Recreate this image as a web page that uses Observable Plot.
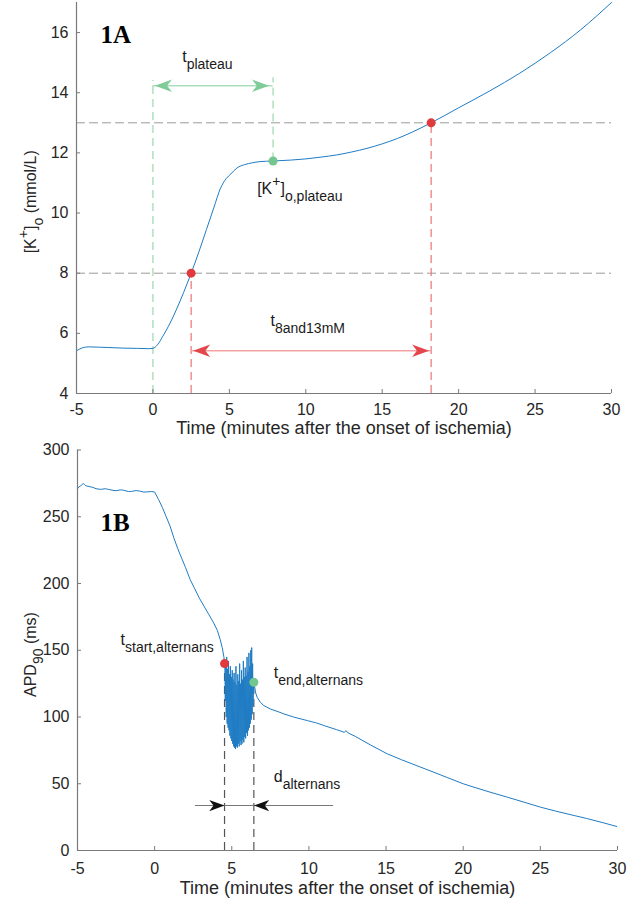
<!DOCTYPE html>
<html><head><meta charset="utf-8">
<script src="https://cdn.jsdelivr.net/npm/d3@7"></script>
<script src="https://cdn.jsdelivr.net/npm/@observablehq/plot@0.6"></script>
<style>
html,body{margin:0;padding:0;background:#fff;}
#chart svg{display:block;}
#chart svg:last-child{overflow:visible;}
</style></head><body><div id="chart"></div>
<script>
// ---------- Panel 1A data ----------
const kTime = [-5,-4.6,-4.2,-3.5,-3,-2,-1,-0.3,0,0.3,0.7,1,1.5,2,2.5,3,3.5,4,4.4,4.8,5.1,5.5,6,6.5,7,7.86,9,10,11,12,13,14,15,16,17,18.2,20,22,24,26,28,30];
const kConc = [5.42,5.52,5.55,5.54,5.53,5.51,5.5,5.49,5.5,5.62,5.95,6.22,6.75,7.35,8.0,8.7,9.45,10.2,10.8,11.15,11.3,11.5,11.61,11.67,11.71,11.73,11.76,11.8,11.86,11.93,12.03,12.15,12.3,12.48,12.7,13.0,13.5,14.05,14.65,15.33,16.1,17.0];
const kThresholds = [8, 13];
const tThreshold = [2.5, 18.2];
const tPlateau = 7.86, kPlateau = 11.73;
const tOnset = 0;
const plateauArrowK = 14.23, thresholdArrowK = 5.42;
const aXTicks = [-5,0,5,10,15,20,25,30];
const aYTicks = [4,6,8,10,12,14,16];

// ---------- Panel 1B data ----------
const apdTimePre = [-5,-4.9,-4.8,-4.63,-4.5,-4.4,-4.2,-4,-3.8,-3.5,-3.2,-3,-2.7,-2.5,-2.2,-2,-1.7,-1.5,-1.2,-1,-0.7,-0.5,-0.2,0,0.25,0.5,0.75,1,1.25,1.5,1.75,2,2.3,2.6,2.9,3.2,3.5,3.8,4.06,4.25,4.38,4.49,4.53];
const apdValPre = [271,272.5,273,275,273.5,273,272.5,272,271,270.5,271,270.5,269.8,269.5,270.2,269.8,268.9,269,269.6,269.3,268.5,268.6,268.9,268.5,263,257,250,243,234,226,219,212,203,196,189,183,177,171,165,158,152,145,140];
const apdTimeAlt = [4.55,4.58,4.61,4.64,4.67,4.70,4.73,4.76,4.79,4.82,4.85,4.88,4.91,4.94,4.97,5.00,5.03,5.06,5.09,5.12,5.15,5.18,5.21,5.24,5.27,5.30,5.33,5.36,5.39,5.42,5.45,5.48,5.51,5.54,5.57,5.60,5.63,5.66,5.69,5.72,5.75,5.78,5.81,5.84,5.87,5.90,5.93,5.96,5.99,6.02,6.05,6.08,6.11,6.14,6.17,6.20,6.23,6.26,6.29,6.32,6.35,6.38,6.41];
const apdValAlt = [138,112,140,100,145,95,136,92,142,90,132,86,138,84,130,82,135,80,128,78,133,77,126,76,138,78,124,77,132,80,127,78,140,82,125,79,135,80,128,83,142,81,130,85,137,84,131,88,145,86,134,90,148,92,138,95,150,98,152,102,140,108,126];
const apdTimePost = [6.43,6.55,6.65,6.85,7.08,7.5,8,8.38,9,9.9,10.5,11,11.8,12.3,12.4,12.55,13,14,15.08,16,17,18.1,19,20,20.7,21.8,22.87,24,25.03,26,27.19,28,29,29.95];
const apdValPost = [126,118,114.7,111,108.5,106,104,102.3,100,97.3,95.5,93.5,90.5,88.5,89.8,88,85.5,79,72.4,68,63.5,58.6,54.5,50,47.4,43.5,39.9,36,32.4,29.5,26.2,24,21,18];
const tStartAlt = 4.53, apdStartAlt = 140;
const tEndAlt = 6.43, apdEndAlt = 126;
const dArrowApd = 33.7, dArrowFrom = 2.65, dArrowTo = 11.6;
const bXTicks = [-5,0,5,10,15,20,25,30];
const bYTicks = [0,50,100,150,200,250,300];

const xTitle = "Time (minutes after the onset of ischemia)";

// ---------- helpers ----------
const FONT = "'Liberation Sans', Arial, Helvetica, sans-serif";
const SERIF = "'Liberation Serif', 'Times New Roman', serif";
const BLUE = "#1f7cc4";
const vback = {
  draw(ctx, size) {
    const r = Math.sqrt(size / Math.PI);
    const L = r * 3.4, W = r * 1.25, N = L * 0.72;
    ctx.moveTo(0, 0);
    ctx.lineTo(-L, -W);
    ctx.lineTo(-N, 0);
    ctx.lineTo(-L, W);
    ctx.closePath();
  }
};
const zip = (a, b) => a.map((x, i) => ({x, y: b[i]}));

function richify(svg) {
  d3.select(svg).selectAll("text").each(function () {
    const s = this.textContent;
    if (!/[_^]\{/.test(s)) return;
    const segs = [];
    const re = /([_^])\{([^}]*)\}|([^_^]+)/g;
    let m;
    while ((m = re.exec(s))) {
      if (m[1]) segs.push({t: m[2], k: m[1] === "_" ? "sub" : "sup"});
      else segs.push({t: m[3], k: "n"});
    }
    while (this.firstChild) this.removeChild(this.firstChild);
    let cur = 0;
    for (const g of segs) {
      const target = g.k === "sub" ? 7 : g.k === "sup" ? -8 : 0;
      const ts = document.createElementNS("http://www.w3.org/2000/svg", "tspan");
      if (target - cur !== 0) ts.setAttribute("dy", target - cur);
      cur = target;
      if (g.k !== "n") ts.setAttribute("font-size", 14);
      ts.textContent = g.t;
      this.appendChild(ts);
    }
  });
}

function axes(xTicks, yTicks, xMin, yMin, xPad) {
  return [
    Plot.ruleY([yMin], {stroke: "#7a7a7a", strokeWidth: 1.2}),
    Plot.ruleX([xMin], {stroke: "#7a7a7a", strokeWidth: 1.2}),
    Plot.axisX(xTicks, {tickSize: -4, tickPadding: xPad, stroke: "#7a7a7a", fill: "#262626", fontSize: 16, tickFormat: d => String(d), label: null}),
    Plot.axisY(yTicks, {tickSize: -4, tickPadding: 12, stroke: "#7a7a7a", fill: "#262626", fontSize: 16, tickFormat: d => String(d), label: null})
  ];
}

// ---------- Panel A ----------
const kSeries = zip(kTime, kConc);
const plotA = Plot.plot({
  width: 639, height: 443,
  marginLeft: 76, marginRight: 28, marginTop: 2, marginBottom: 50,
  x: {domain: [-5, 30]},
  y: {domain: [4, 17]},
  style: {fontFamily: FONT, fontSize: "16px", color: "#262626", background: "white"},
  marks: [
    Plot.ruleY(kThresholds, {x1: -5, x2: 30, stroke: "#9a9a9a", strokeDasharray: "9,4", strokeWidth: 1}),
    Plot.ruleX([tOnset], {y1: 4, y2: 14.41, stroke: "#a3dbb4", strokeDasharray: "8,5", strokeWidth: 1.3}),
    Plot.ruleX([tPlateau], {y1: kPlateau, y2: 14.5, stroke: "#a3dbb4", strokeDasharray: "8,5", strokeWidth: 1.3}),
    Plot.ruleX(tThreshold, {y1: 4, y2: (d, i) => kThresholds[i], stroke: "#ec7474", strokeDasharray: "8,5", strokeWidth: 1.2}),
    Plot.line(kSeries, {x: "x", y: "y", stroke: BLUE, strokeWidth: 1, curve: "monotone-x"}),
    // arrows
    Plot.ruleY([plateauArrowK], {x1: tOnset, x2: tPlateau, stroke: "#a9dfbb", strokeWidth: 1.6}),
    Plot.dot([tOnset], {x: d => d, y: plateauArrowK, symbol: vback, r: 5, rotate: 180, dx: 2, fill: "#7fcc99", stroke: "none"}),
    Plot.dot([tPlateau], {x: d => d, y: plateauArrowK, symbol: vback, r: 5, rotate: 0, dx: -4, fill: "#7fcc99", stroke: "none"}),
    Plot.ruleY([thresholdArrowK], {x1: tThreshold[0], x2: tThreshold[1], stroke: "#f4a3a3", strokeWidth: 1.6}),
    Plot.dot([tThreshold[0]], {x: d => d, y: thresholdArrowK, symbol: vback, r: 5, rotate: 180, dx: 2, fill: "#e4474b", stroke: "none"}),
    Plot.dot([tThreshold[1]], {x: d => d, y: thresholdArrowK, symbol: vback, r: 5, rotate: 0, dx: -2, fill: "#e4474b", stroke: "none"}),
    // points
    Plot.dot(zip(tThreshold, kThresholds), {x: "x", y: "y", r: 4.5, fill: "#e0393e", stroke: "none"}),
    Plot.dot([{x: tPlateau, y: kPlateau}], {x: "x", y: "y", r: 4.5, fill: "#72c68e", stroke: "none"}),
    // labels
    Plot.text(["t_{plateau}"], {x: 1.915, y: 15.015, textAnchor: "start", lineAnchor: "bottom", fontSize: 16, fill: "#1a1a1a"}),
    Plot.text(["[K^{+}]_{o,plateau}"], {x: 6.82, y: 10.62, textAnchor: "start", lineAnchor: "bottom", fontSize: 16, fill: "#1a1a1a"}),
    Plot.text(["t_{8and13mM}"], {x: 7.69, y: 6.23, textAnchor: "start", lineAnchor: "bottom", fontSize: 16, fill: "#1a1a1a"}),
    Plot.text(["1A"], {x: -3.43, y: 15.65, textAnchor: "start", lineAnchor: "bottom", fontSize: 25, fontWeight: "bold", fontFamily: SERIF, fill: "#000"}),
    Plot.text(["[K^{+}]_{o} (mmol/L)"], {x: -5, y: 8.66, rotate: -90, dx: -46, textAnchor: "start", fontSize: 16, fill: "#262626"}),
    Plot.text([xTitle], {frameAnchor: "bottom", dy: 40, fontSize: 18, fill: "#262626"}),
    ...axes(aXTicks, aYTicks, -5, 4, 14.5)
  ]
});

// ---------- Panel B ----------
const apdSeries = zip(apdTimePre.concat(apdTimeAlt, apdTimePost), apdValPre.concat(apdValAlt, apdValPost));
const plotB = Plot.plot({
  width: 639, height: 460,
  marginLeft: 77, marginRight: 22, marginTop: 6.5, marginBottom: 53,
  x: {domain: [-5, 30]},
  y: {domain: [0, 300]},
  style: {fontFamily: FONT, fontSize: "16px", color: "#262626", background: "white"},
  marks: [
    Plot.ruleX([tStartAlt, tEndAlt], {y1: 0, y2: (d, i) => [apdStartAlt, apdEndAlt][i], stroke: "#555", strokeDasharray: "8,5", strokeWidth: 1.2}),
    Plot.line(apdSeries, {x: "x", y: "y", stroke: BLUE, strokeWidth: 1}),
    Plot.ruleY([dArrowApd], {x1: dArrowFrom, x2: dArrowTo, stroke: "#777", strokeWidth: 1}),
    Plot.dot([tStartAlt], {x: d => d, y: dArrowApd, symbol: vback, r: 4.5, rotate: 0, fill: "#111", stroke: "none"}),
    Plot.dot([tEndAlt], {x: d => d, y: dArrowApd, symbol: vback, r: 4.5, rotate: 180, fill: "#111", stroke: "none"}),
    Plot.dot([{x: tStartAlt, y: apdStartAlt}], {x: "x", y: "y", r: 4.5, fill: "#e0393e", stroke: "none"}),
    Plot.dot([{x: tEndAlt, y: apdEndAlt}], {x: "x", y: "y", r: 4.5, fill: "#72c68e", stroke: "none"}),
    Plot.text(["1B"], {x: -3.51, y: 239, textAnchor: "start", lineAnchor: "bottom", fontSize: 25, fontWeight: "bold", fontFamily: SERIF, fill: "#000"}),
    Plot.text(["t_{start,alternans}"], {x: -2.21, y: 154.2, textAnchor: "start", lineAnchor: "bottom", fontSize: 16, fill: "#1a1a1a"}),
    Plot.text(["t_{end,alternans}"], {x: 7.72, y: 129.3, textAnchor: "start", lineAnchor: "bottom", fontSize: 16, fill: "#1a1a1a"}),
    Plot.text(["d_{alternans}"], {x: 7.72, y: 51.1, textAnchor: "start", lineAnchor: "bottom", fontSize: 16, fill: "#1a1a1a"}),
    Plot.text(["APD_{90} (ms)"], {x: -5, y: 115, rotate: -90, dx: -47, textAnchor: "start", fontSize: 16, fill: "#262626"}),
    Plot.text([xTitle], {frameAnchor: "bottom", dy: 43, fontSize: 18, fill: "#262626"}),
    ...axes(bXTicks, bYTicks, -5, 0, 16.5)
  ]
});

richify(plotA); richify(plotB);
document.getElementById("chart").append(plotA, plotB);
</script></body></html>
